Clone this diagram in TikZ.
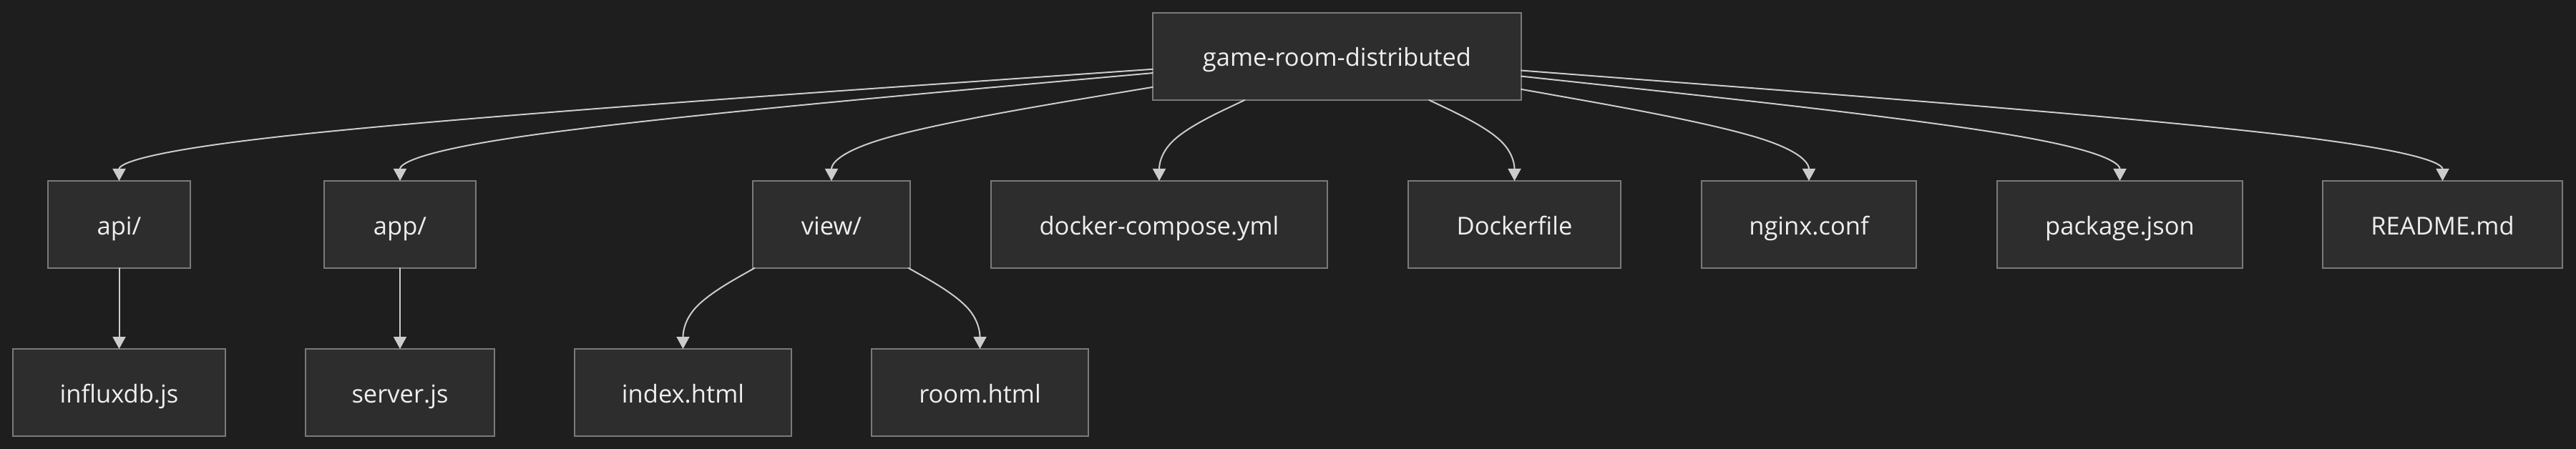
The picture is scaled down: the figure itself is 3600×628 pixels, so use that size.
\documentclass[tikz,border=0pt]{standalone}
\usepackage{fontspec}
\newfontfamily\treefont{Open Sans}
\usetikzlibrary{arrows.meta,calc}

\definecolor{canvas}{HTML}{1E1E1E}
\definecolor{boxfill}{HTML}{2D2D2D}
\definecolor{boxline}{HTML}{7A7A7A}
\definecolor{wire}{HTML}{CCCCCC}
\definecolor{label}{HTML}{EEEEEE}

\begin{document}
\begin{tikzpicture}[
  x=1pt, y=-1pt,
  line cap=round,
  font=\treefont\fontsize{34.5}{41}\selectfont,
  entry/.style={draw=boxline, fill=boxfill, line width=2pt, text=label, minimum height=122pt,
    text height=34pt, text depth=6pt, inner sep=0pt, outer sep=0pt},
  link/.style={-{Triangle[length=17pt,width=18pt]}, line width=2pt, draw=wire}
]

\def\rowTop{79}
\def\rowMid{314}
\def\rowLow{549}
\def\gapTop{196.5}
\def\gapLow{431.5}

% Canvas.
\fill[canvas] (0,0) rectangle (3600,628);
\useasboundingbox (0,0) rectangle (3600,628);

% Root folder and its entries.
\node[entry, minimum width=515pt] (root) at (1868.5,\rowTop) {game-room-distributed};
\node[entry, minimum width=199pt] (api) at (166.5,\rowMid) {api/};
\node[entry, minimum width=212pt] (app) at (559,\rowMid) {app/};
\node[entry, minimum width=220pt] (view) at (1162,\rowMid) {view/};
\node[entry, minimum width=470pt] (compose) at (1620,\rowMid) {docker-compose.yml};
\node[entry, minimum width=297pt] (dockerfile) at (2116.5,\rowMid) {Dockerfile};
\node[entry, minimum width=300pt] (nginx) at (2528,\rowMid) {nginx.conf};
\node[entry, minimum width=343pt] (pkg) at (2962.5,\rowMid) {package.json};
\node[entry, minimum width=335pt] (readme) at (3413.5,\rowMid) {README.md};

% Files inside the subfolders.
\node[entry, minimum width=297pt] (influx) at (166.5,\rowLow) {influxdb.js};
\node[entry, minimum width=264pt] (server) at (559,\rowLow) {server.js};
\node[entry, minimum width=303pt] (index) at (954.5,\rowLow) {index.html};
\node[entry, minimum width=303pt] (room) at (1369.5,\rowLow) {room.html};

\coordinate (gapA) at (0,\gapTop);
\coordinate (gapB) at (0,\gapLow);

% Curved links: straight run towards the bend point, then down into the child.
\foreach \mom/\kid/\sideA/\sideB/\gap in {
  root/api/north west/south west/gapA,
  root/app/north west/south west/gapA,
  root/view/north west/south west/gapA,
  root/compose/south west/south east/gapA,
  root/dockerfile/south west/south east/gapA,
  root/nginx/north east/south east/gapA,
  root/pkg/north east/south east/gapA,
  root/readme/north east/south east/gapA,
  view/index/south west/south east/gapB,
  view/room/south west/south east/gapB}{
  \coordinate (bend) at (\kid.north |- \gap);
  \coordinate (start) at (intersection of \mom.center--bend and \mom.\sideA--\mom.\sideB);
  \coordinate (end) at (\kid.north);
  \coordinate (runA) at ($(start)!0.16667!(bend)$);
  \coordinate (runB) at ($(start)!0.33333!(bend)$);
  \coordinate (runC) at ($(start)!0.66667!(bend)$);
  \coordinate (knee) at ($0.16667*(start) + 0.66667*(bend) + 0.16667*(end)$);
  \coordinate (dropA) at ($(bend)!0.33333!(end)$);
  \coordinate (dropB) at ($(bend)!0.66667!(end)$);
  \draw[link] (start) -- (runA) .. controls (runB) and (runC) .. (knee)
    .. controls (dropA) and (dropB) .. (end);
}

% Straight links into single files.
\draw[link] (api) -- (influx);
\draw[link] (app) -- (server);

\end{tikzpicture}
\end{document}
